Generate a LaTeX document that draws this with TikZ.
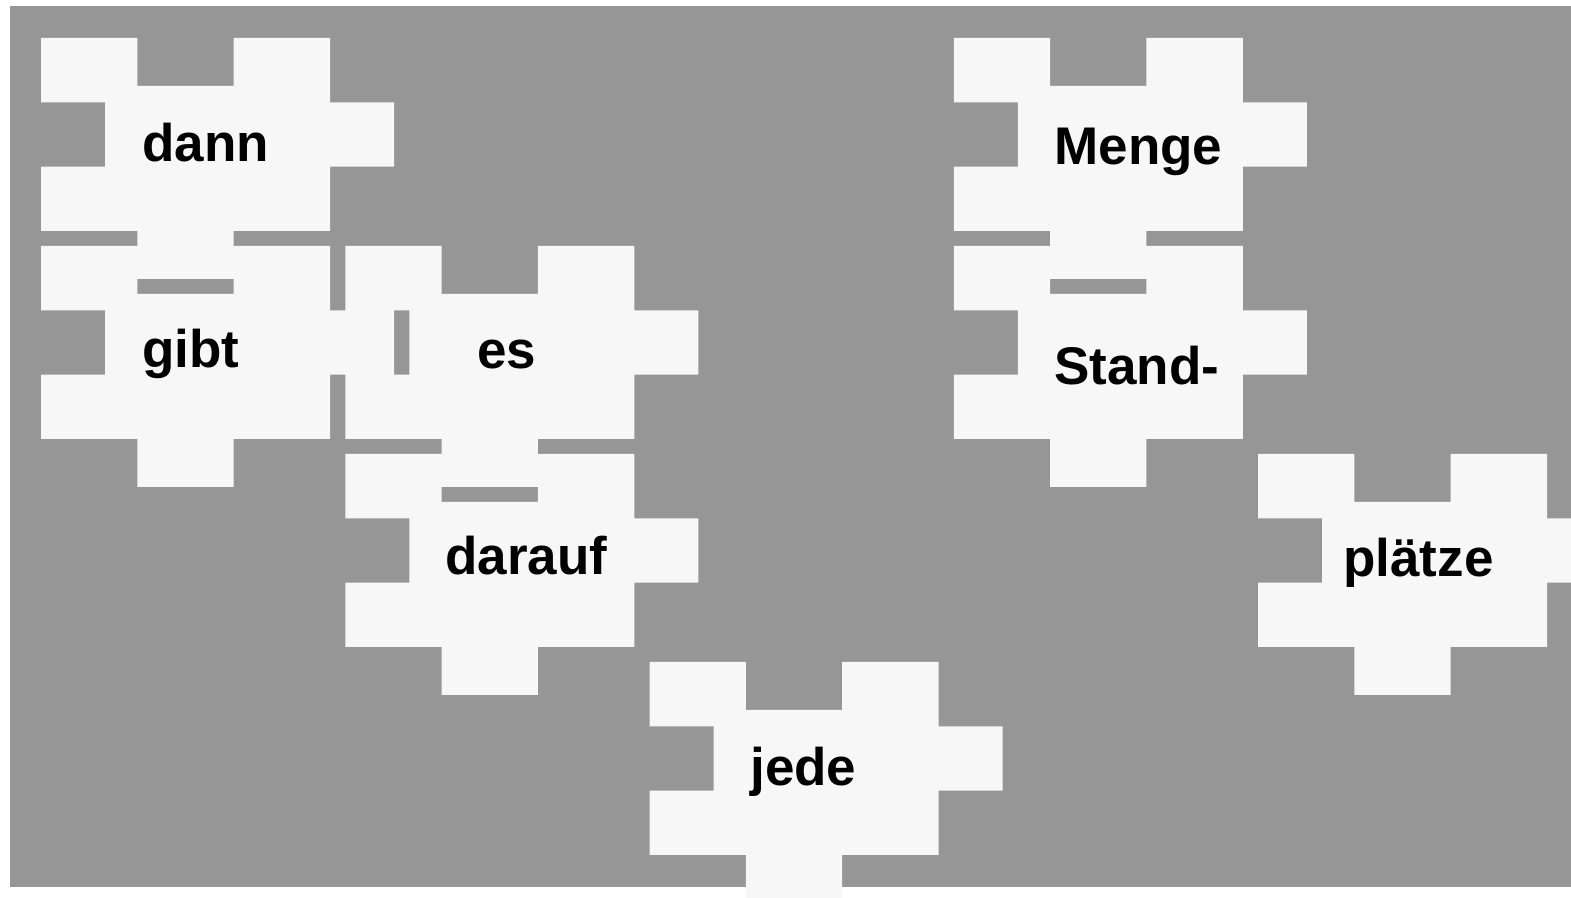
\documentclass[tikz,border=0pt]{standalone}
\usepackage{fontspec}
\setmainfont{Liberation Sans}
\definecolor{board}{HTML}{969696}
\definecolor{piece}{HTML}{F7F7F7}
\tikzset{
  tile/.style={fill=piece,draw=none},
  word/.style={font=\bfseries\fontsize{26.5}{30}\selectfont,inner sep=0pt,anchor=base west},
}

\begin{document}
\begin{tikzpicture}[x=0.5pt,y=-0.5pt]
  \useasboundingbox (0,0) rectangle (1571,898);
  \clip (0,0) rectangle (1571,898);
  \fill[board] (10,6) rectangle (1571,887);
  % all pieces in one path, so touching tabs leave no seam
  \fill[tile] \foreach \c/\r [evaluate=\c as \px using 41+304.25*\c,
      evaluate=\r as \py using 38+208*\r] in {0/0,0/1,1/1,1/2,2/3,3/0,3/1,4/2} {
    (\px,\py) -- ++(96.3,0) -- ++(0,48) -- ++(96.4,0) -- ++(0,-48) -- ++(96.3,0)
    -- ++(0,64.3) -- ++(64,0) -- ++(0,64.4) -- ++(-64,0) -- ++(0,64.3)
    -- ++(-96.3,0) -- ++(0,48) -- ++(-96.4,0) -- ++(0,-48) -- ++(-96.3,0)
    -- ++(0,-64.3) -- ++(64,0) -- ++(0,-64.4) -- ++(-64,0) -- cycle};
  \node[word] (dann) at (142,162) {dann};
  \node[word] (gibt) at (142,368) {gibt};
  \node[word] (es) at (477,369) {es};
  \node[word] (darauf) at (445,575) {darauf};
  \node[word] (jede) at (750,786) {jede};
  \node[word] (menge) at (1054,165) {Menge};
  \node[word] (stand) at (1054,385) {Stand-};
  \node[word] (plaetze) at (1343,577) {plätze};
\end{tikzpicture}
\end{document}
